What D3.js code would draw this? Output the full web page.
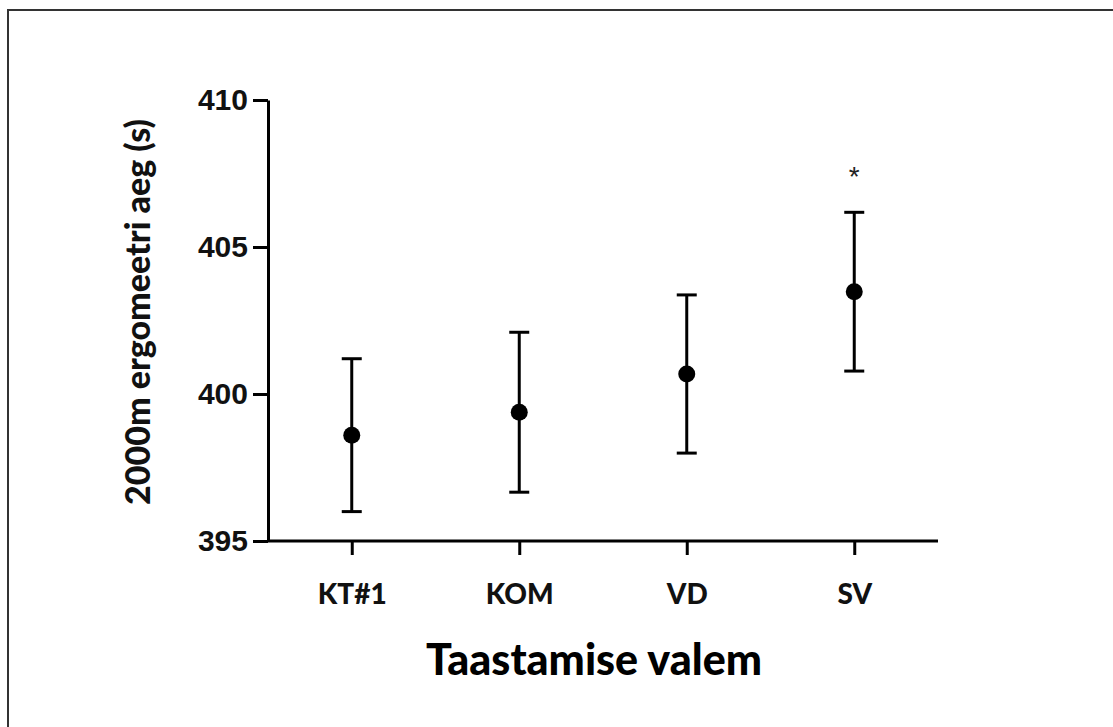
<!DOCTYPE html>
<html>
<head>
<meta charset="utf-8">
<script src="https://cdn.jsdelivr.net/npm/d3@7"></script>
<style>
  body { margin: 0; background: #fff; }
  svg { display: block; }
  .tick text.ylab { font-family: "Liberation Sans", Arial, sans-serif; font-weight: bold; }
</style>
</head>
<body>
<svg id="chart"></svg>
<script>
const categories = ["KT#1", "KOM", "VD", "SV"];
const means = [398.6, 399.38, 400.68, 403.48];
const errors = [2.6, 2.72, 2.69, 2.7];
const yTicks = [395, 400, 405, 410];
const starred = ["SV"];
const starValue = 407.6;

const W = 1113, H = 727;
const margin = { top: 100, right: 175, bottom: 186, left: 268 };
const width = W - margin.left - margin.right;
const height = H - margin.top - margin.bottom;

const svg = d3.select("#chart").attr("width", W).attr("height", H);

// outer frame (only top and left edges fall inside the picture)
svg.append("rect")
	.attr("x", 8).attr("y", 10)
	.attr("width", W + 20).attr("height", H + 20)
	.attr("fill", "none")
	.attr("stroke", "#333")
	.attr("stroke-width", 2);

const g = svg.append("g").attr("transform", `translate(${margin.left},${margin.top})`);

const x = d3.scalePoint().domain(categories).range([0, width]).padding(0.5);
const y = d3.scaleLinear().domain([395, 410]).range([height, 0]);

// y axis
const yAxis = g.append("g")
	.call(d3.axisLeft(y).tickValues(yTicks).tickSize(15).tickSizeOuter(0).tickPadding(5));
yAxis.selectAll("path, line").attr("stroke", "#000").attr("stroke-width", 3);
yAxis.selectAll("text")
	.attr("class", "ylab")
	.attr("fill", "#111")
	.style("font-size", "30px");

// x axis
const xAxis = g.append("g")
	.attr("transform", `translate(0,${height})`)
	.call(d3.axisBottom(x).tickSize(14).tickSizeOuter(0).tickPadding(0));
xAxis.selectAll("path, line").attr("stroke", "#000").attr("stroke-width", 3);
xAxis.select(".domain").attr("d", `M0,0H${width}`);
xAxis.selectAll("text")
	.attr("y", 63)
	.attr("dy", 0)
	.attr("fill", "#111")
	.style("font-family", "Lato, 'Open Sans', sans-serif")
	.style("font-weight", "900")
	.style("font-size", "28px");

// error bars
const capW = 10;
const bars = g.selectAll(".eb").data(categories).enter().append("g").attr("class", "eb");
bars.append("line")
	.attr("x1", d => x(d)).attr("x2", d => x(d))
	.attr("y1", (d, i) => y(means[i] + errors[i]))
	.attr("y2", (d, i) => y(means[i] - errors[i]));
bars.append("line")
	.attr("x1", d => x(d) - capW).attr("x2", d => x(d) + capW)
	.attr("y1", (d, i) => y(means[i] + errors[i]))
	.attr("y2", (d, i) => y(means[i] + errors[i]));
bars.append("line")
	.attr("x1", d => x(d) - capW).attr("x2", d => x(d) + capW)
	.attr("y1", (d, i) => y(means[i] - errors[i]))
	.attr("y2", (d, i) => y(means[i] - errors[i]));
bars.selectAll("line").attr("stroke", "#000").attr("stroke-width", 3);

// mean points
g.selectAll(".pt").data(categories).enter().append("circle")
	.attr("class", "pt")
	.attr("cx", d => x(d))
	.attr("cy", (d, i) => y(means[i]))
	.attr("r", 8.5)
	.attr("fill", "#000");

// significance marks
const starSize = 28;
g.selectAll(".star").data(starred).enter().append("text")
	.attr("class", "star")
	.attr("x", d => x(d))
	.attr("y", y(starValue) + starSize * 0.56)
	.attr("text-anchor", "middle")
	.style("font-family", "'Liberation Sans', Arial, sans-serif")
	.style("font-size", starSize + "px")
	.attr("fill", "#222")
	.text("*");

// axis titles
svg.append("text")
	.attr("transform", `translate(150,${margin.top + 212}) rotate(-90)`)
	.attr("text-anchor", "middle")
	.style("font-family", "Lato, 'Open Sans', sans-serif")
	.style("font-weight", "900")
	.style("font-size", "34px")
	.attr("fill", "#111")
	.text("2000m ergomeetri aeg (s)");

svg.append("text")
	.attr("x", 594)
	.attr("y", 675)
	.attr("text-anchor", "middle")
	.style("font-family", "Lato, 'Open Sans', sans-serif")
	.style("font-weight", "900")
	.style("font-size", "43px")
	.attr("fill", "#000")
	.text("Taastamise valem");
</script>
</body>
</html>
